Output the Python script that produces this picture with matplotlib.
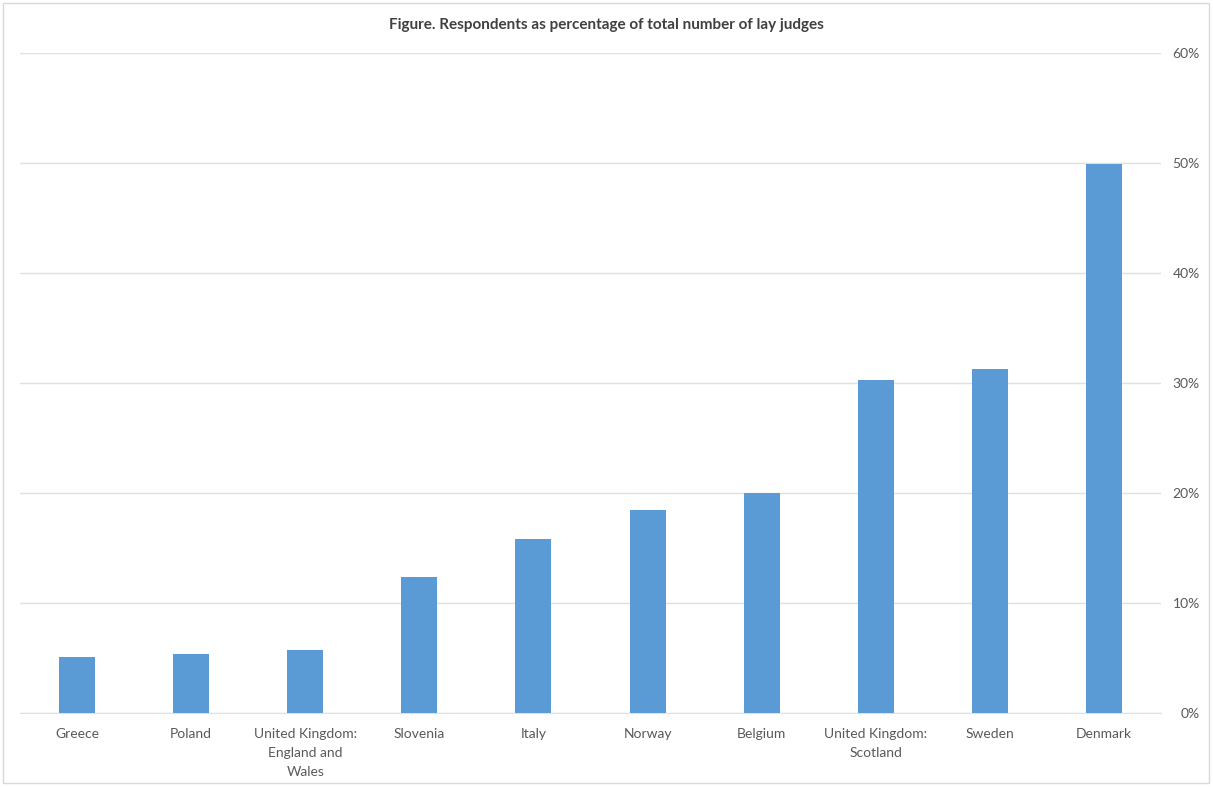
import matplotlib.pyplot as plt
from matplotlib.ticker import FuncFormatter, MultipleLocator
import numpy as np

countries = ['Greece', 'Poland', 'United Kingdom:\nEngland and\nWales', 'Slovenia',
             'Italy', 'Norway', 'Belgium', 'United Kingdom:\nScotland', 'Sweden',
             'Denmark']
respondents_share = [0.051, 0.054, 0.057, 0.124, 0.158, 0.1845, 0.200, 0.303, 0.313, 0.499]

plt.rcParams['font.family'] = ['Lato', 'DejaVu Sans']

fig = plt.figure(figsize=(12.13, 7.87), dpi=100)
ax = fig.add_axes([20 / 1213, 1 - 713 / 787, (1161 - 20) / 1213, (713 - 53) / 787])

x = np.arange(len(countries))
ax.bar(x, respondents_share, width=0.316, color='#5B9BD5', zorder=3)

ax.set_xlim(-0.5, len(countries) - 0.5)
ax.set_ylim(0, 0.6)
ax.yaxis.set_major_locator(MultipleLocator(0.1))
ax.yaxis.set_major_formatter(FuncFormatter(lambda v, _: f'{v * 100:.0f}%'))
ax.yaxis.tick_right()
ax.grid(axis='y', color='#E0E0E0', linewidth=1, zorder=0)

ax.set_xticks(x)
ax.set_xticklabels(countries, linespacing=1.7)
ax.tick_params(axis='x', length=0, pad=10.5, labelsize=10, labelcolor='#595959')
ax.tick_params(axis='y', length=0, pad=28, labelsize=10, labelcolor='#595959')
for lbl in ax.get_yticklabels():
    lbl.set_horizontalalignment('right')

for side in ['top', 'left', 'right']:
    ax.spines[side].set_visible(False)
ax.spines['bottom'].set_color('#E0E0E0')

fig.text(0.5, 1 - 25 / 787, 'Figure. Respondents as percentage of total number of lay judges',
         ha='center', va='center', fontsize=11, fontweight='bold', color='#404040')

# light border round the chart area
fig.add_artist(plt.Rectangle((3 / 1213, 4 / 787), 1206 / 1213, 780 / 787,
                             transform=fig.transFigure, fill=False,
                             edgecolor='#D9D9D9', linewidth=1))

fig.savefig('out.png', dpi=100)
